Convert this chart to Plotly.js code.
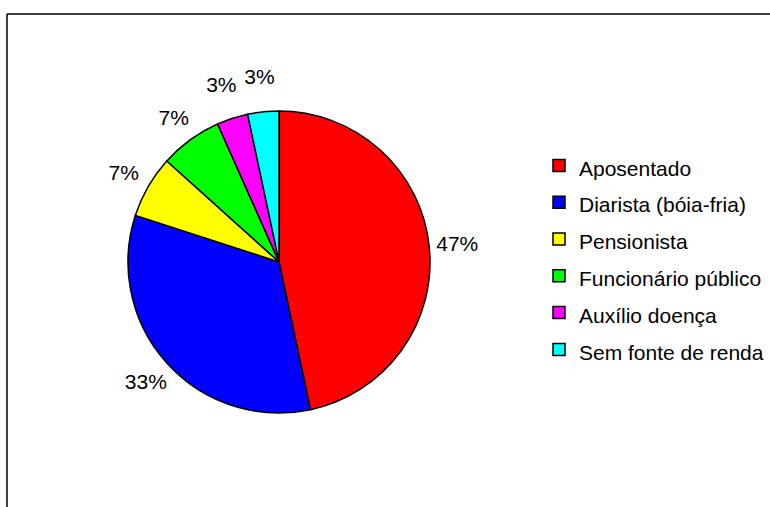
<!DOCTYPE html>
<html>
<head>
<meta charset="utf-8">
<script src="https://cdn.plot.ly/plotly-3.0.1.min.js"></script>
<style>html,body{margin:0;padding:0;background:#fff;}#chart{width:770px;height:507px;}</style>
</head>
<body>
<div id="chart"></div>
<script>
const categories = ["Aposentado", "Diarista (bóia-fria)", "Pensionista", "Funcionário público", "Auxílio doença", "Sem fonte de renda"];
const counts = [14, 10, 2, 2, 1, 1];
const sliceColors = ["#FF0000", "#0000FF", "#FFFF00", "#00FF00", "#FF00FF", "#00FFFF"];

const W = 770, H = 507;
const cx = 279, cy = 262, r = 151;   // pie centre / radius in px
const rl = 206;                       // outer radius of the invisible label ring

const FONT = 'Liberation Sans, Arial, sans-serif';
const legendLabels = categories.map(c => '<span style="font-size:21px">' + c + '</span>');

function dom(rad) {
  return { x: [(cx - rad) / W, (cx + rad) / W], y: [(H - cy - rad) / H, (H - cy + rad) / H] };
}

const pieTrace = {
  type: 'pie',
  labels: legendLabels,
  values: counts,
  sort: false,
  direction: 'clockwise',
  rotation: 0,
  marker: { colors: sliceColors, line: { color: '#000', width: 1.5 } },
  textposition: 'none',
  hoverinfo: 'label+percent',
  domain: dom(r)
};

// invisible ring used only to place the percentage labels just outside the pie
const labelTrace = {
  type: 'pie',
  labels: legendLabels,
  values: counts,
  sort: false,
  direction: 'clockwise',
  rotation: 0,
  hole: 0.74,
  showlegend: false,
  marker: { colors: sliceColors.map(() => 'rgba(0,0,0,0)'), line: { width: 0 } },
  textposition: 'inside',
  insidetextorientation: 'horizontal',
  texttemplate: '%{percent:.0%}',
  textfont: { family: FONT, size: 21, color: '#000' },
  hoverinfo: 'skip',
  domain: dom(rl)
};

const layout = {
  width: W, height: H,
  margin: { l: 0, r: 0, t: 0, b: 0 },
  paper_bgcolor: '#fff',
  showlegend: true,
  uniformtext: { mode: 'show', minsize: 21 },
  legend: {
    x: 539 / W, xanchor: 'left',
    y: 1 - 142 / H, yanchor: 'top',
    font: { family: FONT, size: 26, color: '#000' },
    bgcolor: 'rgba(0,0,0,0)'
  },
  shapes: [
    { type: 'line', xref: 'paper', yref: 'paper', x0: 7 / W, x1: 1, y0: 1 - 14 / H, y1: 1 - 14 / H, line: { color: '#000', width: 1.5 } },
    { type: 'line', xref: 'paper', yref: 'paper', x0: 7 / W, x1: 7 / W, y0: 0, y1: 1 - 14 / H, line: { color: '#000', width: 1.5 } }
  ],
  font: { family: FONT, color: '#000' }
};

Plotly.newPlot('chart', [pieTrace, labelTrace], layout, { displayModeBar: false, staticPlot: true });
</script>
</body>
</html>
